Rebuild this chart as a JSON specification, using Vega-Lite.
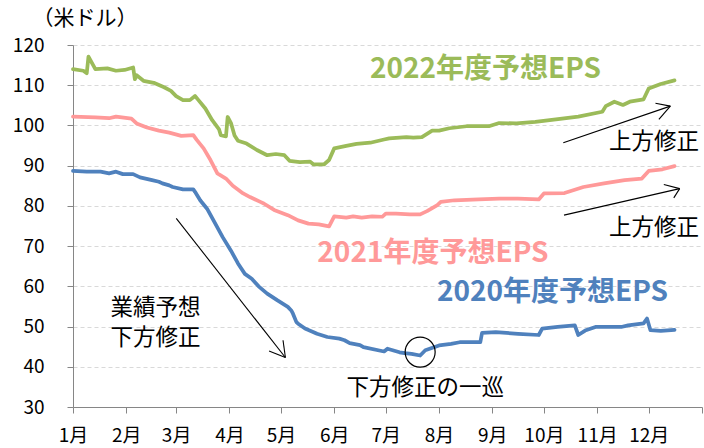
{
  "$schema": "https://vega.github.io/schema/vega-lite/v6.json",
  "width": 629,
  "height": 362,
  "autosize": {"type": "none"},
  "padding": {"left": 73, "top": 45, "right": 2, "bottom": 41},
  "background": "white",
  "config": {"view": {"stroke": null}, "font": "Noto Sans CJK JP"},
  "datasets": {
    "eps": [
      {"date": "2020-01-01", "value": 114.0, "series": "2022"},
      {"date": "2020-01-07", "value": 113.6, "series": "2022"},
      {"date": "2020-01-09", "value": 113.0, "series": "2022"},
      {"date": "2020-01-10", "value": 117.1, "series": "2022"},
      {"date": "2020-01-14", "value": 114.0, "series": "2022"},
      {"date": "2020-01-21", "value": 114.2, "series": "2022"},
      {"date": "2020-01-26", "value": 113.6, "series": "2022"},
      {"date": "2020-01-31", "value": 113.8, "series": "2022"},
      {"date": "2020-02-05", "value": 114.4, "series": "2022"},
      {"date": "2020-02-06", "value": 111.5, "series": "2022"},
      {"date": "2020-02-07", "value": 112.5, "series": "2022"},
      {"date": "2020-02-11", "value": 111.1, "series": "2022"},
      {"date": "2020-02-17", "value": 110.6, "series": "2022"},
      {"date": "2020-02-23", "value": 109.5, "series": "2022"},
      {"date": "2020-02-27", "value": 108.6, "series": "2022"},
      {"date": "2020-03-01", "value": 107.3, "series": "2022"},
      {"date": "2020-03-05", "value": 106.3, "series": "2022"},
      {"date": "2020-03-09", "value": 106.3, "series": "2022"},
      {"date": "2020-03-12", "value": 107.3, "series": "2022"},
      {"date": "2020-03-14", "value": 106.3, "series": "2022"},
      {"date": "2020-03-18", "value": 104.2, "series": "2022"},
      {"date": "2020-03-22", "value": 101.3, "series": "2022"},
      {"date": "2020-03-26", "value": 99.0, "series": "2022"},
      {"date": "2020-03-27", "value": 97.6, "series": "2022"},
      {"date": "2020-03-30", "value": 97.3, "series": "2022"},
      {"date": "2020-03-31", "value": 102.1, "series": "2022"},
      {"date": "2020-04-02", "value": 100.5, "series": "2022"},
      {"date": "2020-04-04", "value": 97.5, "series": "2022"},
      {"date": "2020-04-06", "value": 96.2, "series": "2022"},
      {"date": "2020-04-11", "value": 95.5, "series": "2022"},
      {"date": "2020-04-17", "value": 93.9, "series": "2022"},
      {"date": "2020-04-23", "value": 92.6, "series": "2022"},
      {"date": "2020-04-28", "value": 92.9, "series": "2022"},
      {"date": "2020-05-03", "value": 92.6, "series": "2022"},
      {"date": "2020-05-06", "value": 91.2, "series": "2022"},
      {"date": "2020-05-12", "value": 90.9, "series": "2022"},
      {"date": "2020-05-18", "value": 91.0, "series": "2022"},
      {"date": "2020-05-20", "value": 90.3, "series": "2022"},
      {"date": "2020-05-26", "value": 90.3, "series": "2022"},
      {"date": "2020-05-29", "value": 91.4, "series": "2022"},
      {"date": "2020-06-01", "value": 94.3, "series": "2022"},
      {"date": "2020-06-08", "value": 94.9, "series": "2022"},
      {"date": "2020-06-14", "value": 95.4, "series": "2022"},
      {"date": "2020-06-22", "value": 95.7, "series": "2022"},
      {"date": "2020-06-30", "value": 96.5, "series": "2022"},
      {"date": "2020-07-03", "value": 96.8, "series": "2022"},
      {"date": "2020-07-13", "value": 97.1, "series": "2022"},
      {"date": "2020-07-17", "value": 97.0, "series": "2022"},
      {"date": "2020-07-22", "value": 97.1, "series": "2022"},
      {"date": "2020-07-28", "value": 98.7, "series": "2022"},
      {"date": "2020-08-01", "value": 98.7, "series": "2022"},
      {"date": "2020-08-07", "value": 99.3, "series": "2022"},
      {"date": "2020-08-17", "value": 99.8, "series": "2022"},
      {"date": "2020-08-30", "value": 99.8, "series": "2022"},
      {"date": "2020-09-05", "value": 100.6, "series": "2022"},
      {"date": "2020-09-15", "value": 100.5, "series": "2022"},
      {"date": "2020-09-26", "value": 100.9, "series": "2022"},
      {"date": "2020-10-08", "value": 101.5, "series": "2022"},
      {"date": "2020-10-21", "value": 102.2, "series": "2022"},
      {"date": "2020-11-04", "value": 103.4, "series": "2022"},
      {"date": "2020-11-06", "value": 104.8, "series": "2022"},
      {"date": "2020-11-11", "value": 105.9, "series": "2022"},
      {"date": "2020-11-16", "value": 105.1, "series": "2022"},
      {"date": "2020-11-20", "value": 105.9, "series": "2022"},
      {"date": "2020-11-28", "value": 106.5, "series": "2022"},
      {"date": "2020-12-01", "value": 109.2, "series": "2022"},
      {"date": "2020-12-08", "value": 110.3, "series": "2022"},
      {"date": "2020-12-16", "value": 111.2, "series": "2022"},

      {"date": "2020-01-01", "value": 102.2, "series": "2021"},
      {"date": "2020-01-14", "value": 102.0, "series": "2021"},
      {"date": "2020-01-22", "value": 101.8, "series": "2021"},
      {"date": "2020-01-26", "value": 102.2, "series": "2021"},
      {"date": "2020-02-04", "value": 101.7, "series": "2021"},
      {"date": "2020-02-07", "value": 100.5, "series": "2021"},
      {"date": "2020-02-13", "value": 99.5, "series": "2021"},
      {"date": "2020-02-20", "value": 98.7, "series": "2021"},
      {"date": "2020-02-26", "value": 98.2, "series": "2021"},
      {"date": "2020-03-04", "value": 97.4, "series": "2021"},
      {"date": "2020-03-11", "value": 97.6, "series": "2021"},
      {"date": "2020-03-13", "value": 96.4, "series": "2021"},
      {"date": "2020-03-17", "value": 94.3, "series": "2021"},
      {"date": "2020-03-21", "value": 91.4, "series": "2021"},
      {"date": "2020-03-25", "value": 88.1, "series": "2021"},
      {"date": "2020-03-30", "value": 86.8, "series": "2021"},
      {"date": "2020-04-03", "value": 85.0, "series": "2021"},
      {"date": "2020-04-09", "value": 83.1, "series": "2021"},
      {"date": "2020-04-13", "value": 82.2, "series": "2021"},
      {"date": "2020-04-19", "value": 81.0, "series": "2021"},
      {"date": "2020-04-21", "value": 80.6, "series": "2021"},
      {"date": "2020-04-27", "value": 79.0, "series": "2021"},
      {"date": "2020-05-05", "value": 77.7, "series": "2021"},
      {"date": "2020-05-11", "value": 76.4, "series": "2021"},
      {"date": "2020-05-17", "value": 75.6, "series": "2021"},
      {"date": "2020-05-23", "value": 75.4, "series": "2021"},
      {"date": "2020-05-29", "value": 74.9, "series": "2021"},
      {"date": "2020-06-01", "value": 77.4, "series": "2021"},
      {"date": "2020-06-08", "value": 77.1, "series": "2021"},
      {"date": "2020-06-12", "value": 77.4, "series": "2021"},
      {"date": "2020-06-17", "value": 77.1, "series": "2021"},
      {"date": "2020-06-23", "value": 77.4, "series": "2021"},
      {"date": "2020-06-29", "value": 77.3, "series": "2021"},
      {"date": "2020-07-01", "value": 78.1, "series": "2021"},
      {"date": "2020-07-07", "value": 78.1, "series": "2021"},
      {"date": "2020-07-15", "value": 77.9, "series": "2021"},
      {"date": "2020-07-21", "value": 77.9, "series": "2021"},
      {"date": "2020-07-25", "value": 78.7, "series": "2021"},
      {"date": "2020-07-31", "value": 80.2, "series": "2021"},
      {"date": "2020-08-02", "value": 81.0, "series": "2021"},
      {"date": "2020-08-10", "value": 81.4, "series": "2021"},
      {"date": "2020-08-24", "value": 81.6, "series": "2021"},
      {"date": "2020-09-05", "value": 81.8, "series": "2021"},
      {"date": "2020-09-16", "value": 81.8, "series": "2021"},
      {"date": "2020-09-28", "value": 81.6, "series": "2021"},
      {"date": "2020-10-01", "value": 83.1, "series": "2021"},
      {"date": "2020-10-13", "value": 83.2, "series": "2021"},
      {"date": "2020-10-24", "value": 84.7, "series": "2021"},
      {"date": "2020-11-05", "value": 85.6, "series": "2021"},
      {"date": "2020-11-17", "value": 86.4, "series": "2021"},
      {"date": "2020-11-27", "value": 86.8, "series": "2021"},
      {"date": "2020-12-01", "value": 88.7, "series": "2021"},
      {"date": "2020-12-09", "value": 89.1, "series": "2021"},
      {"date": "2020-12-16", "value": 89.9, "series": "2021"},

      {"date": "2020-01-01", "value": 88.7, "series": "2020"},
      {"date": "2020-01-09", "value": 88.5, "series": "2020"},
      {"date": "2020-01-17", "value": 88.5, "series": "2020"},
      {"date": "2020-01-22", "value": 88.1, "series": "2020"},
      {"date": "2020-01-26", "value": 88.5, "series": "2020"},
      {"date": "2020-01-30", "value": 87.9, "series": "2020"},
      {"date": "2020-02-05", "value": 87.9, "series": "2020"},
      {"date": "2020-02-09", "value": 87.1, "series": "2020"},
      {"date": "2020-02-16", "value": 86.4, "series": "2020"},
      {"date": "2020-02-20", "value": 86.0, "series": "2020"},
      {"date": "2020-02-22", "value": 85.6, "series": "2020"},
      {"date": "2020-02-26", "value": 85.1, "series": "2020"},
      {"date": "2020-02-28", "value": 84.7, "series": "2020"},
      {"date": "2020-03-05", "value": 84.1, "series": "2020"},
      {"date": "2020-03-11", "value": 84.1, "series": "2020"},
      {"date": "2020-03-12", "value": 83.5, "series": "2020"},
      {"date": "2020-03-15", "value": 81.4, "series": "2020"},
      {"date": "2020-03-19", "value": 79.3, "series": "2020"},
      {"date": "2020-03-23", "value": 76.2, "series": "2020"},
      {"date": "2020-03-28", "value": 72.3, "series": "2020"},
      {"date": "2020-04-02", "value": 68.8, "series": "2020"},
      {"date": "2020-04-06", "value": 65.7, "series": "2020"},
      {"date": "2020-04-10", "value": 63.1, "series": "2020"},
      {"date": "2020-04-14", "value": 61.9, "series": "2020"},
      {"date": "2020-04-18", "value": 60.0, "series": "2020"},
      {"date": "2020-04-23", "value": 58.2, "series": "2020"},
      {"date": "2020-04-29", "value": 56.5, "series": "2020"},
      {"date": "2020-05-05", "value": 54.9, "series": "2020"},
      {"date": "2020-05-07", "value": 54.0, "series": "2020"},
      {"date": "2020-05-08", "value": 53.2, "series": "2020"},
      {"date": "2020-05-10", "value": 51.1, "series": "2020"},
      {"date": "2020-05-11", "value": 50.7, "series": "2020"},
      {"date": "2020-05-15", "value": 49.5, "series": "2020"},
      {"date": "2020-05-20", "value": 48.6, "series": "2020"},
      {"date": "2020-05-22", "value": 48.2, "series": "2020"},
      {"date": "2020-05-28", "value": 47.4, "series": "2020"},
      {"date": "2020-06-04", "value": 47.0, "series": "2020"},
      {"date": "2020-06-07", "value": 46.6, "series": "2020"},
      {"date": "2020-06-10", "value": 45.9, "series": "2020"},
      {"date": "2020-06-16", "value": 45.4, "series": "2020"},
      {"date": "2020-06-18", "value": 44.9, "series": "2020"},
      {"date": "2020-06-30", "value": 43.8, "series": "2020"},
      {"date": "2020-07-02", "value": 44.5, "series": "2020"},
      {"date": "2020-07-09", "value": 43.6, "series": "2020"},
      {"date": "2020-07-12", "value": 43.4, "series": "2020"},
      {"date": "2020-07-16", "value": 43.2, "series": "2020"},
      {"date": "2020-07-21", "value": 42.8, "series": "2020"},
      {"date": "2020-07-24", "value": 44.1, "series": "2020"},
      {"date": "2020-08-01", "value": 45.3, "series": "2020"},
      {"date": "2020-08-08", "value": 45.7, "series": "2020"},
      {"date": "2020-08-13", "value": 46.1, "series": "2020"},
      {"date": "2020-08-25", "value": 46.1, "series": "2020"},
      {"date": "2020-08-26", "value": 48.4, "series": "2020"},
      {"date": "2020-09-03", "value": 48.6, "series": "2020"},
      {"date": "2020-09-16", "value": 48.2, "series": "2020"},
      {"date": "2020-09-28", "value": 47.9, "series": "2020"},
      {"date": "2020-09-30", "value": 49.5, "series": "2020"},
      {"date": "2020-10-09", "value": 49.9, "series": "2020"},
      {"date": "2020-10-19", "value": 50.3, "series": "2020"},
      {"date": "2020-10-21", "value": 47.9, "series": "2020"},
      {"date": "2020-10-25", "value": 49.0, "series": "2020"},
      {"date": "2020-10-31", "value": 49.9, "series": "2020"},
      {"date": "2020-11-15", "value": 49.9, "series": "2020"},
      {"date": "2020-11-19", "value": 50.3, "series": "2020"},
      {"date": "2020-11-28", "value": 50.8, "series": "2020"},
      {"date": "2020-11-30", "value": 52.0, "series": "2020"},
      {"date": "2020-12-02", "value": 49.1, "series": "2020"},
      {"date": "2020-12-08", "value": 48.9, "series": "2020"},
      {"date": "2020-12-16", "value": 49.2, "series": "2020"}
    ],
    "serieslabels": [
      {"date": "2020-08-28", "value": 113.8, "text": "2022年度予想EPS", "series": "2022"},
      {"date": "2020-07-28T10:00:00Z", "value": 68.0, "text": "2021年度予想EPS", "series": "2021"},
      {"date": "2020-10-06", "value": 58.3, "text": "2020年度予想EPS", "series": "2020"}
    ],
    "notes": [
      {"date": "2020-12-04", "value": 95.85, "text": "上方修正"},
      {"date": "2020-12-04", "value": 74.4, "text": "上方修正"},
      {"date": "2020-02-18", "value": 54.6, "text": "業績予想\n下方修正"},
      {"date": "2020-07-24", "value": 34.6, "text": "下方修正の一巡"}
    ],
    "arrows": [
      {"date": "2020-03-01T02:00:00Z", "value": 76.9, "date2": "2020-05-03T14:00:00Z", "value2": 42.3},
      {"date": "2020-04-24T02:00:00Z", "value": 43.9, "date2": "2020-05-03T14:00:00Z", "value2": 42.3},
      {"date": "2020-05-02T05:00:00Z", "value": 46.6, "date2": "2020-05-03T14:00:00Z", "value2": 42.3},
      {"date": "2020-10-12T07:00:00Z", "value": 95.7, "date2": "2020-12-13T14:00:00Z", "value2": 104.8},
      {"date": "2020-12-04T22:00:00Z", "value": 105.5, "date2": "2020-12-13T14:00:00Z", "value2": 104.8},
      {"date": "2020-12-06T22:00:00Z", "value": 101.5, "date2": "2020-12-13T14:00:00Z", "value2": 104.8},
      {"date": "2020-10-12T17:00:00Z", "value": 77.7, "date2": "2020-12-19T00:00:00Z", "value2": 84.3},
      {"date": "2020-12-09T19:00:00Z", "value": 85.3, "date2": "2020-12-19T00:00:00Z", "value2": 84.3},
      {"date": "2020-12-15T14:00:00Z", "value": 82.0, "date2": "2020-12-19T00:00:00Z", "value2": 84.3}
    ],
    "circle": [
      {"date": "2020-07-21", "value": 43.65}
    ]
  },
  "encoding": {
    "x": {
      "field": "date",
      "type": "temporal",
      "title": null,
      "scale": {"type": "utc", "domain": [1577836800000, 1609459200000], "nice": false},
      "axis": {
        "values": [1577836800000, 1580515200000, 1583020800000, 1585699200000, 1588291200000, 1590969600000, 1593561600000, 1596240000000, 1598918400000, 1601510400000, 1604188800000, 1606780800000, 1609459200000],
        "labelExpr": "utcyear(datum.value) > 2020 ? '' : (utcmonth(datum.value) + 1) + '月'",
        "grid": false,
        "domainColor": "#868686",
        "tickColor": "#868686",
        "tickSize": 6,
        "labelFont": "Noto Sans CJK JP",
        "labelFontSize": 19,
        "labelColor": "#000000",
        "labelPadding": 13,
        "labelAngle": 0,
        "labelFlush": false,
        "labelOverlap": false
      }
    },
    "y": {
      "field": "value",
      "type": "quantitative",
      "scale": {"domain": [30, 120], "nice": false, "zero": false},
      "axis": {
        "values": [30, 40, 50, 60, 70, 80, 90, 100, 110, 120],
        "title": "（米ドル）",
        "titleAngle": 0,
        "titleAlign": "left",
        "titleAnchor": "start",
        "titleBaseline": "middle",
        "titleX": -41,
        "titleY": -27,
        "titleFont": "Noto Sans CJK JP",
        "titleFontSize": 21,
        "titleFontWeight": "normal",
        "titleColor": "#000000",
        "grid": true,
        "gridColor": "#d9d9d9",
        "gridDash": [4, 3],
        "domainColor": "#868686",
        "tickColor": "#868686",
        "tickSize": 6,
        "labelFont": "Noto Sans CJK JP",
        "labelFontSize": 19,
        "labelColor": "#000000",
        "labelPadding": 23
      }
    }
  },
  "layer": [
    {
      "data": {"name": "eps"},
      "mark": {"type": "line", "strokeWidth": 3.75, "strokeJoin": "round", "strokeCap": "round"},
      "encoding": {
        "color": {
          "field": "series",
          "type": "nominal",
          "scale": {"domain": ["2020", "2021", "2022"], "range": ["#4F81BD", "#FF9999", "#9BBB59"]},
          "legend": null
        }
      }
    },
    {
      "data": {"name": "serieslabels"},
      "mark": {"type": "text", "fontSize": 28, "fontWeight": "bold", "font": "Noto Sans CJK JP", "align": "center", "baseline": "middle"},
      "encoding": {
        "text": {"field": "text"},
        "color": {"field": "series", "type": "nominal", "legend": null}
      }
    },
    {
      "data": {"name": "notes"},
      "mark": {"type": "text", "fontSize": 22.5, "font": "Noto Sans CJK JP", "align": "center", "baseline": "middle", "color": "#000000", "lineBreak": "\n", "lineHeight": 30},
      "encoding": {
        "text": {"field": "text"}
      }
    },
    {
      "data": {"name": "arrows"},
      "mark": {"type": "rule", "color": "#000000", "strokeWidth": 1.1},
      "encoding": {
        "x2": {"field": "date2"},
        "y2": {"field": "value2"}
      }
    },
    {
      "data": {"name": "circle"},
      "mark": {"type": "point", "shape": "circle", "size": 900, "filled": false, "color": "#000000", "strokeWidth": 1.2, "opacity": 1},
      "encoding": {}
    }
  ]
}
